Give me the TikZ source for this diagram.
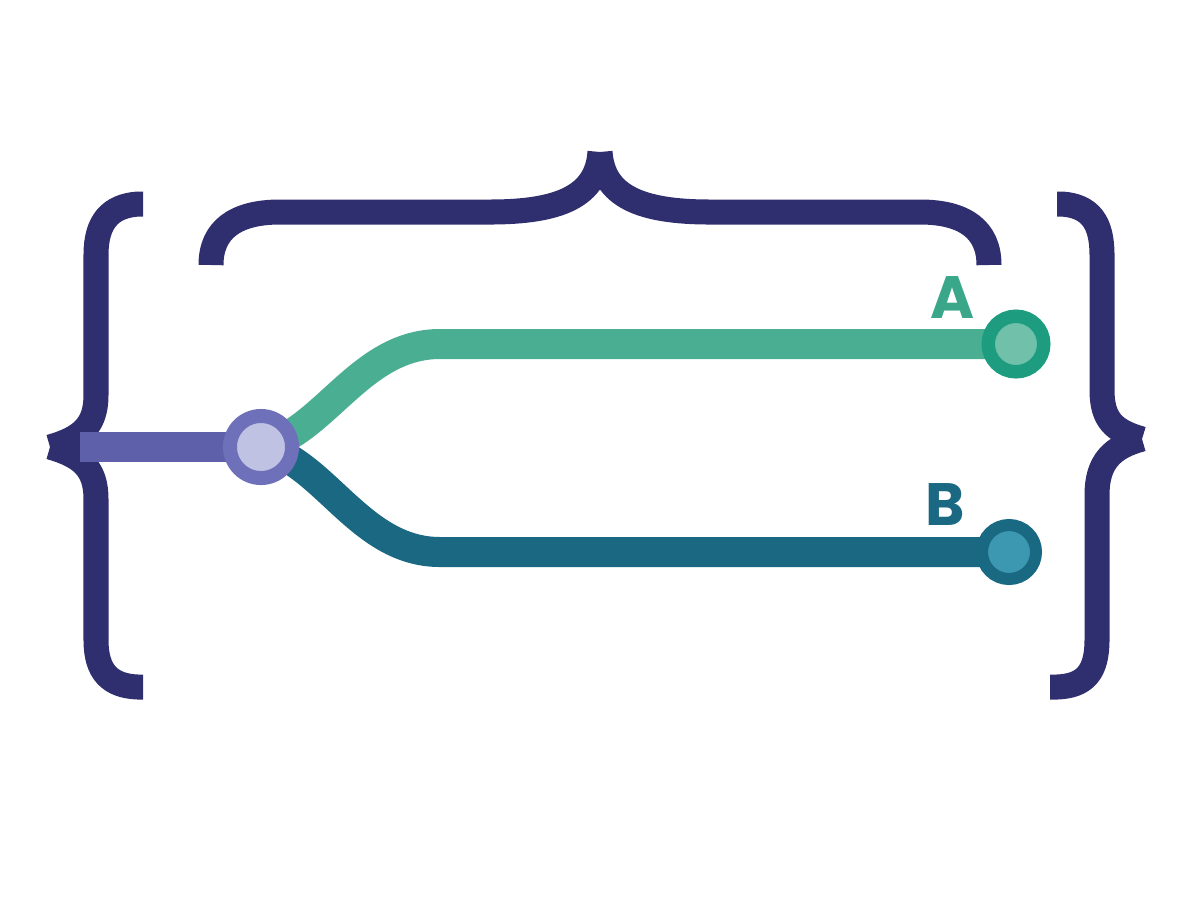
\documentclass[tikz,border=0pt]{standalone}
\usepackage{fontspec}
\setsansfont{Poppins}
\definecolor{bracenavy}{RGB}{47,46,110}
\definecolor{trunkpurple}{RGB}{94,97,170}
\definecolor{hubring}{RGB}{110,112,186}
\definecolor{hubfill}{RGB}{192,194,228}
\definecolor{armgreen}{RGB}{74,174,146}
\definecolor{endgreen}{RGB}{30,156,128}
\definecolor{fillgreen}{RGB}{112,192,170}
\definecolor{tagA}{RGB}{58,166,138}
\definecolor{armblue}{RGB}{26,104,130}
\definecolor{endblue}{RGB}{25,105,130}
\definecolor{fillblue}{RGB}{60,152,176}
\usetikzlibrary{positioning}

\begin{document}
\begin{tikzpicture}[
        x=0.01cm, y=-0.01cm,
        brace/.style={draw=bracenavy, line width=0.25cm, line cap=butt, line join=round},
        trunk/.style={line width=0.3cm, line cap=butt},
        port/.style={circle, inner sep=0pt, outer sep=0pt},
        tag/.style={font=\sffamily\bfseries\fontsize{17}{20}\selectfont}
    ]
        \useasboundingbox (0,0) rectangle (1200,896);

        % braces
        \draw[brace] (143,204) -- (138,204) .. controls (110,206) and (96,222) .. (96,255)
            -- (96,395) .. controls (96,425) and (82,438) .. (50,447);
        \draw[brace] (50,447) .. controls (82,456) and (96,469) .. (96,499)
            -- (96,640) .. controls (96,672) and (110,686) .. (138,687) -- (143,687);
        \draw[brace] (211,265) .. controls (211,230) and (235,212) .. (280,212)
            -- (490,212) .. controls (560,212) and (597,196) .. (600,152);
        \draw[brace] (600,152) .. controls (603,196) and (640,212) .. (710,212)
            -- (920,212) .. controls (965,212) and (989,230) .. (989,265);
        \draw[brace] (1057,204) -- (1062,204) .. controls (1090,206) and (1102,222) .. (1102,255)
            -- (1102,390) .. controls (1102,420) and (1114,431) .. (1142,439);
        \draw[brace] (1142,439) .. controls (1112,447) and (1097,462) .. (1097,495)
            -- (1097,640) .. controls (1097,672) and (1085,686) .. (1057,687) -- (1050,687);

        % ports
        \coordinate (src) at (80,447);
        \node[port, minimum size=0.62cm] (hub) at (261,447) {};
        \node[port, minimum size=0.555cm] (endA) at (1016,344) {};
        \node[port, minimum size=0.54cm] (endB) at (1009,552) {};

        \node[tag, text=tagA] (lblA) at (953,298) {A};
        \node[tag, text=armblue] (lblB) at (945,504) {B};

        % branches
        \draw[trunk, draw=trunkpurple] (src) -- (hub.center);
        \draw[trunk, draw=armgreen] (hub.center) .. controls (325,432) and (360,344) .. (440,344) -- (endA.center);
        \draw[trunk, draw=armblue] (hub.center) .. controls (325,462) and (360,552) .. (440,552) -- (endB.center);

        \draw[draw=hubring, fill=hubfill, line width=0.14cm] (hub) circle (0.31cm);
        \draw[draw=endgreen, fill=fillgreen, line width=0.135cm] (endA) circle (0.2775cm);
        \draw[draw=endblue, fill=fillblue, line width=0.12cm] (endB) circle (0.27cm);
    \end{tikzpicture}
\end{document}
